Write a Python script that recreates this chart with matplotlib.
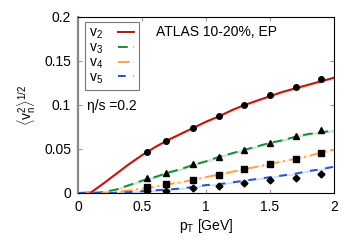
import matplotlib
matplotlib.use("Agg")
import matplotlib.pyplot as plt
import numpy as np

plt.rcParams['font.family'] = ['Liberation Sans', 'DejaVu Sans']
plt.rcParams['mathtext.fontset'] = 'custom'
plt.rcParams['mathtext.rm'] = 'Liberation Sans'
plt.rcParams['mathtext.it'] = 'Liberation Sans'

# theory curves
pt_curve = [0.0, 0.1, 0.2, 0.3, 0.4, 0.5, 0.6, 0.7, 0.8, 0.9, 1.0,
            1.1, 1.2, 1.3, 1.4, 1.5, 1.6, 1.7, 1.8, 1.9, 2.0]
v2_curve = [0.0, 0.0005, 0.011, 0.022, 0.033, 0.043, 0.052, 0.060, 0.067, 0.074, 0.081,
            0.087, 0.094, 0.100, 0.105, 0.110, 0.115, 0.119, 0.123, 0.127, 0.131]
v3_curve = [0.0, 0.0, 0.001, 0.004, 0.009, 0.014, 0.018, 0.023, 0.027, 0.032, 0.036,
            0.041, 0.045, 0.049, 0.053, 0.057, 0.060, 0.064, 0.067, 0.069, 0.071]
v4_curve = [0.0, 0.0, 0.0, 0.001, 0.003, 0.005, 0.007, 0.010, 0.012, 0.015, 0.018,
            0.021, 0.024, 0.027, 0.030, 0.033, 0.036, 0.039, 0.042, 0.046, 0.049]
v5_curve = [0.0, 0.0, 0.0, 0.0, 0.001, 0.002, 0.003, 0.004, 0.005, 0.007, 0.009,
            0.010, 0.012, 0.014, 0.016, 0.018, 0.020, 0.022, 0.025, 0.027, 0.030]
band_halfwidth = [0.002, 0.0015, 0.0012, 0.001]

# ATLAS data
pt_data = [0.54, 0.69, 0.90, 1.10, 1.30, 1.50, 1.70, 1.90]
v2_data = [0.047, 0.059, 0.074, 0.088, 0.100, 0.111, 0.121, 0.130]
v3_data = [0.017, 0.023, 0.033, 0.041, 0.049, 0.057, 0.065, 0.072]
v4_data = [0.0065, 0.010, 0.015, 0.021, 0.027, 0.033, 0.039, 0.046]
v5_data = [0.0026, 0.0026, 0.0053, 0.008, 0.011, 0.0144, 0.0174, 0.0216]

labels = ['v$_2$', 'v$_3$', 'v$_4$', 'v$_5$']
colors = ['#a81c12', '#1a8a3a', '#ffa04a', '#2255d0']
styles = ['-', (0, (5, 3)), (0, (6, 2, 1, 2)), (0, (4, 4))]
markers = ['o', '^', 's', 'D']
msizes = [4, 4.5, 4, 3.5]

fig = plt.figure(figsize=(3.6, 2.52), dpi=100)
ax = fig.add_axes([78/360, 1-193/252, 256/360, 176/252])

curves = [v2_curve, v3_curve, v4_curve, v5_curve]
datas = [v2_data, v3_data, v4_data, v5_data]
x = np.array(pt_curve)
for c, d, lab, col, ls, mk, ms, hw in zip(curves, datas, labels, colors, styles, markers, msizes, band_halfwidth):
    y = np.array(c)
    ax.fill_between(x, y - hw, y + hw, color=col, alpha=0.2, lw=0)
    ax.plot(x, y, color=col, ls=ls, lw=1.4, label=lab)
    ax.plot(pt_data, d, ls='none', marker=mk, ms=ms, color='black', zorder=5)

ax.set_xlim(0, 2)
ax.set_ylim(0, 0.2)
ax.set_xticks([0, 0.5, 1, 1.5, 2])
ax.set_xticklabels(['0', '0.5', '1', '1.5', '2'])
ax.set_yticks([0, 0.05, 0.1, 0.15, 0.2])
ax.set_yticklabels(['0', '0.05', '0.1', '0.15', '0.2'])
ax.tick_params(direction='in', length=3, width=0.8, color='#999999',
               top=True, right=True, labelsize=10, pad=5)
for s in ['top', 'right', 'bottom']:
    ax.spines[s].set_color('black')
    ax.spines[s].set_linewidth(0.8)
ax.spines['left'].set_color('#888888')
ax.spines['left'].set_linewidth(1.6)

ax.set_xlabel('p$_{\\mathrm{T}}$ [GeV]', fontsize=10, labelpad=2)
ax.set_ylabel('$\\langle$v$_{\\mathrm{n}}^{2}\\rangle^{1/2}$', fontsize=10, labelpad=4)

leg = ax.legend(loc='upper left', bbox_to_anchor=(0.027, 0.972), fontsize=10,
                markerfirst=False, handlelength=1.15, handletextpad=1.1,
                labelspacing=-0.05, borderpad=0.3, borderaxespad=0.0,
                frameon=True, fancybox=False)
leg.get_frame().set_edgecolor('#555555')
leg.get_frame().set_linewidth(0.8)

ax.text(0.305, 0.915, 'ATLAS 10-20%, EP', transform=ax.transAxes, fontsize=10, va='center')
ax.text(0.035, 0.495, '\u03b7/s =0.2', transform=ax.transAxes, fontsize=10, va='center')

fig.savefig('out.png', dpi=100)
